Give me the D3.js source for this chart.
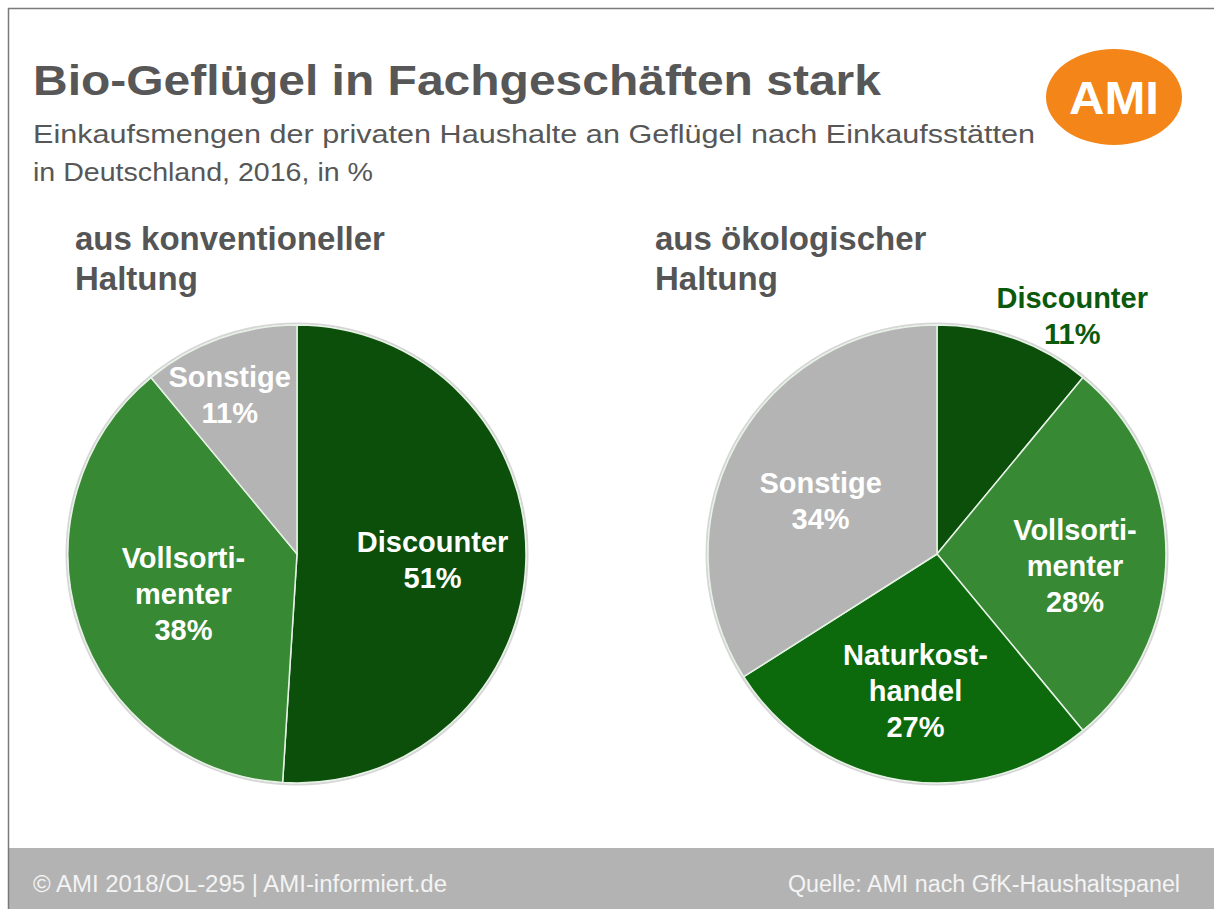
<!DOCTYPE html>
<html>
<head>
<meta charset="utf-8">
<script src="https://d3js.org/d3.v7.min.js"></script>
<style>
  body { margin: 0; background: #fff; }
  text { font-family: "Liberation Sans", Arial, sans-serif; }
</style>
</head>
<body>
<script>
// data
var categories_konv = ['Discounter', 'Vollsortimenter', 'Sonstige'];
var values_konv = [51, 38, 11];
var categories_oeko = ['Discounter', 'Vollsortimenter', 'Naturkosthandel', 'Sonstige'];
var values_oeko = [11, 28, 27, 34];

var labelLines = {
    'Discounter': ['Discounter'],
    'Vollsortimenter': ['Vollsorti-', 'menter'],
    'Naturkosthandel': ['Naturkost-', 'handel'],
    'Sonstige': ['Sonstige']
};
var colors = {
    'Discounter': '#0b4f0b',
    'Vollsortimenter': '#388934',
    'Naturkosthandel': '#0c690c',
    'Sonstige': '#b4b4b4'
};

var width = 1214, height = 909;
var svg = d3.select('body').append('svg').attr('width', width).attr('height', height);

// frame + footer
svg.append('rect').attr('x', 8).attr('y', 848).attr('width', width - 8).attr('height', height - 848).attr('fill', '#b3b3b3');
svg.append('line').attr('x1', 8).attr('x2', width).attr('y1', 8.5).attr('y2', 8.5).attr('stroke', '#7a7a7a').attr('stroke-width', 1.5);
svg.append('line').attr('x1', 8.5).attr('x2', 8.5).attr('y1', 8).attr('y2', height).attr('stroke', '#7a7a7a').attr('stroke-width', 1.5);

// titles
svg.append('text').attr('x', 33).attr('y', 95).attr('font-size', 42).attr('font-weight', 'bold')
    .attr('fill', '#575757').attr('textLength', 848).attr('lengthAdjust', 'spacingAndGlyphs')
    .text('Bio-Geflügel in Fachgeschäften stark');
svg.append('text').attr('x', 33).attr('y', 143).attr('font-size', 25).attr('fill', '#575757')
    .attr('textLength', 1002).attr('lengthAdjust', 'spacingAndGlyphs')
    .text('Einkaufsmengen der privaten Haushalte an Geflügel nach Einkaufsstätten');
svg.append('text').attr('x', 33).attr('y', 181).attr('font-size', 25).attr('fill', '#575757')
    .attr('textLength', 340).attr('lengthAdjust', 'spacingAndGlyphs')
    .text('in Deutschland, 2016, in %');

// logo
svg.append('ellipse').attr('cx', 1114).attr('cy', 97).attr('rx', 68).attr('ry', 48).attr('fill', '#f38519');
svg.append('text').attr('x', 1114).attr('y', 114).attr('text-anchor', 'middle').attr('font-size', 46)
    .attr('font-weight', 'bold').attr('fill', '#fff').attr('textLength', 90).attr('lengthAdjust', 'spacingAndGlyphs').text('AMI');

// footer text
svg.append('text').attr('x', 33).attr('y', 892).attr('font-size', 23).attr('fill', '#f4f4f4')
    .attr('textLength', 414).attr('lengthAdjust', 'spacingAndGlyphs')
    .text('© AMI 2018/OL-295 | AMI-informiert.de');
svg.append('text').attr('x', 788).attr('y', 892).attr('font-size', 23).attr('fill', '#f4f4f4')
    .attr('textLength', 392).attr('lengthAdjust', 'spacingAndGlyphs')
    .text('Quelle: AMI nach GfK-Haushaltspanel');

var pie = d3.pie().sort(null).value(function(d){ return d.value; });
var R = 229;
var arc = d3.arc().innerRadius(0).outerRadius(R);

function drawPie(cx, cy, hx, heading, cats, vals, labelPos){
    var g = svg.append('g').attr('transform', 'translate(' + cx + ',' + cy + ')');
    var data = cats.map(function(c, i){ return {name: c, value: vals[i]}; });
    var arcs = pie(data);

    // heading
    heading.forEach(function(line, i){
        svg.append('text').attr('x', hx).attr('y', 250 + i * 40)
            .attr('font-size', 33).attr('font-weight', 'bold').attr('fill', '#555').text(line);
    });

    g.append('circle').attr('r', R + 1.5).attr('fill', 'none').attr('stroke', '#d6d6d6').attr('stroke-width', 2);
    g.selectAll('path').data(arcs).enter().append('path')
        .attr('d', arc)
        .attr('fill', function(d){ return colors[d.data.name]; })
        .attr('stroke', '#e6f2e6').attr('stroke-width', 1.5);

    arcs.forEach(function(d, i){
        var lp = labelPos[i];
        var la = d3.arc().innerRadius(0).outerRadius(R * lp.r * 2);
        var c = la.centroid(d);
        var lines = labelLines[d.data.name].concat([d.data.value + '%']);
        var x = c[0] + (lp.dx || 0), y = c[1] + (lp.dy || 0);
        var lh = 36;
        var t = g.append('text').attr('text-anchor', 'middle').attr('font-size', 29).attr('font-weight', 'bold')
            .attr('fill', lp.color || '#fff');
        lines.forEach(function(l, j){
            t.append('tspan').attr('x', x).attr('y', y + 10 + (j - (lines.length - 1) / 2) * lh).text(l);
        });
    });
}

drawPie(297, 554, 75, ['aus konventioneller', 'Haltung'], categories_konv, values_konv,
    [{r: 0.54, dx: 12, dy: 2}, {r: 0.54, dx: 4, dy: 2}, {r: 0.7, dx: -13, dy: -8}]);
drawPie(937, 554, 655, ['aus ökologischer', 'Haltung'], categories_oeko, values_oeko,
    [{r: 1.15, dx: 46, dy: 10, color: '#0b5a0b'}, {r: 0.62, dx: -4, dy: 12}, {r: 0.6, dx: 0, dy: 1}, {r: 0.56, dx: -4, dy: 9}]);
</script>
</body>
</html>
